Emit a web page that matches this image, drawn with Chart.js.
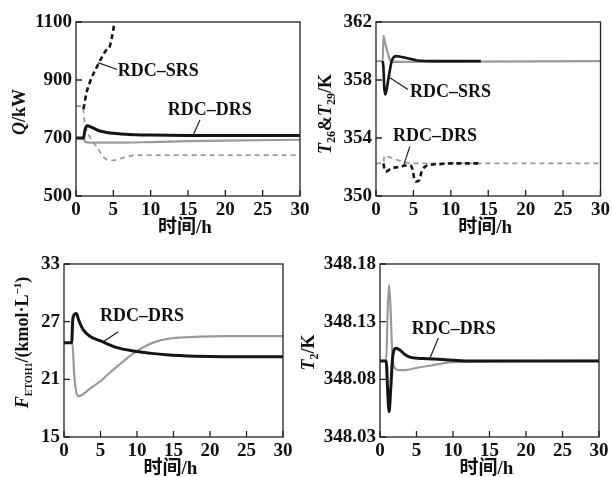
<!DOCTYPE html>
<html>
<head>
<meta charset="utf-8">
<script src="https://cdn.jsdelivr.net/npm/chart.js@4.4.0/dist/chart.umd.min.js"></script>
<style>
  html, body { margin: 0; padding: 0; background: #fff; }
  #wrap { position: relative; width: 613px; height: 477px; }
  #wrap canvas { position: absolute; left: 0; top: 0; }
</style>
</head>
<body>
<div id="wrap">
  <canvas id="chartQ" width="613" height="477"></canvas>
  <canvas id="chartT" width="613" height="477"></canvas>
  <canvas id="chartF" width="613" height="477"></canvas>
  <canvas id="chartT2" width="613" height="477"></canvas>
</div>
<script>
// time axis, shared by all four panels
const timeTicks = [0, 5, 10, 15, 20, 25, 30];

// panel 1 : Q / kW
const qTicks = [500, 700, 900, 1100];
const qBlackX = [0, 1.0, 1.2, 1.5, 2, 3, 4, 5, 6, 8, 10, 15, 20, 30];
const qBlackY = [700, 700, 728, 742, 738, 726, 720, 716, 714, 711, 710, 709, 709, 709];
const qGrayX = [0, 1.0, 1.2, 1.5, 3, 5, 10, 15, 20, 30];
const qGrayY = [699, 699, 688, 685, 684, 684, 686, 689, 691, 694];
const qBlackDashX = [1.0, 1.4, 1.9, 2.4, 3.0, 3.6, 4.1, 4.5, 4.8, 5.0, 5.15];
const qBlackDashY = [800, 855, 895, 925, 955, 985, 1005, 1015, 1046, 1075, 1100];
const qGrayDashX = [0, 0.95, 1.05, 1.65, 2.76, 4.1, 5.0, 6.5, 8, 30];
const qGrayDashY = [810, 810, 775, 716, 670, 626, 623, 633, 641, 641];

// panel 2 : T26 & T29 / K
const tTicks = [350, 354, 358, 362];
const tBlackX = [0.9, 1.0, 1.1, 1.25, 1.4, 1.7, 2.1, 2.7, 3.3, 4.2, 5.5, 8, 14];
const tBlackY = [359.3, 358.8, 357.5, 357.0, 357.3, 358.2, 359.3, 359.65, 359.6, 359.5, 359.35, 359.3, 359.3];
const tGrayX = [0, 0.9, 1.0, 1.2, 1.5, 1.9, 2.3, 30];
const tGrayY = [359.3, 359.3, 361.05, 360.6, 360.0, 359.35, 359.25, 359.3];
const tBlackDashX = [1.0, 1.15, 1.4, 2.0, 3.0, 4.0, 4.6, 4.9, 5.1, 5.4, 5.8, 6.1, 6.5, 7.2, 8.5, 10, 14];
const tBlackDashY = [352.25, 351.8, 351.7, 351.9, 352.0, 352.1, 352.1, 351.8, 351.2, 351.0, 351.1, 351.7, 352.0, 352.15, 352.2, 352.25, 352.25];
const tGrayDashX = [0, 1.0, 1.1, 2.0, 3.0, 4.0, 5.0, 30];
const tGrayDashY = [352.25, 352.25, 352.75, 352.65, 352.45, 352.3, 352.25, 352.25];

// panel 3 : F_ETOH1
const fTicks = [15, 21, 27, 33];
const fBlackX = [0, 1.05, 1.2, 1.5, 1.7, 2.0, 2.6, 3.5, 5, 7, 9.5, 12, 14, 18, 22, 30];
const fBlackY = [24.8, 24.8, 27.2, 27.8, 27.85, 27.2, 26.2, 25.5, 25.0, 24.35, 23.95, 23.7, 23.55, 23.4, 23.35, 23.35];
const fGrayX = [0, 1.15, 1.4, 1.7, 2.0, 2.5, 3.5, 4.9, 6, 7.2, 8.5, 9.5, 11, 12.5, 14.1, 16, 18.6, 22, 30];
const fGrayY = [24.8, 24.8, 21.5, 19.6, 19.25, 19.4, 20.0, 20.75, 21.5, 22.3, 23.1, 23.7, 24.4, 24.9, 25.2, 25.35, 25.45, 25.5, 25.5];

// panel 4 : T2 / K
const t2Ticks = [348.03, 348.08, 348.13, 348.18];
const t2BlackX = [0, 0.85, 1.05, 1.25, 1.45, 1.75, 2.2, 2.8, 3.5, 4.2, 6, 9, 12, 30];
const t2BlackY = [348.096, 348.096, 348.07, 348.052, 348.07, 348.1, 348.107, 348.105, 348.101, 348.099, 348.098, 348.097, 348.096, 348.096];
const t2GrayX = [0, 0.85, 1.05, 1.25, 1.45, 1.7, 2.0, 2.5, 3.5, 5, 7, 10, 30];
const t2GrayY = [348.096, 348.096, 348.14, 348.162, 348.14, 348.1, 348.09, 348.088, 348.088, 348.09, 348.092, 348.095, 348.096];

const BLACK = "#151515";
const GRAY = "#9a9a9a";
const SERIF = "'Liberation Serif', 'Noto Sans CJK SC', serif";

const toPoints = (xs, ys) => xs.map((x, i) => ({ x: x, y: ys[i] }));

const lineSet = (xs, ys, color, width, dash) => ({
  data: toPoints(xs, ys),
  borderColor: color,
  borderWidth: width,
  borderDash: dash || [],
  pointRadius: 0,
  fill: false,
  cubicInterpolationMode: "monotone",
});

// draw a rotated axis title made of styled pieces
const drawTitle = (ctx, pieces, cx, cy) => {
  const fontOf = (p) => {
    const size = p.sub || p.sup ? p.size || 12 : 18;
    return (p.italic ? "italic " : "") + "bold " + size + "px " + SERIF;
  };
  let total = 0;
  pieces.forEach((p) => {
    ctx.font = fontOf(p);
    total += ctx.measureText(p.text).width;
  });
  ctx.save();
  ctx.translate(cx, cy);
  ctx.rotate(-Math.PI / 2);
  ctx.textAlign = "left";
  ctx.textBaseline = "alphabetic";
  let x = -total / 2;
  pieces.forEach((p) => {
    ctx.font = fontOf(p);
    let dy = 6;
    if (p.sub) dy = 10;
    if (p.sup) dy = -1;
    ctx.fillText(p.text, x, dy);
    x += ctx.measureText(p.text).width;
  });
  ctx.restore();
};

const panelDecor = {
  id: "panelDecor",
  afterDraw(chart, args, opts) {
    const ctx = chart.ctx;
    const area = chart.chartArea;
    const xs = chart.scales.x;
    const ys = chart.scales.y;
    ctx.save();
    ctx.strokeStyle = "#222";
    ctx.lineWidth = 1.3;
    ctx.strokeRect(area.left, area.top, area.right - area.left, area.bottom - area.top);
    // inward tick marks
    ctx.beginPath();
    xs.ticks.forEach((t) => {
      const px = xs.getPixelForValue(t.value);
      ctx.moveTo(px, area.bottom);
      ctx.lineTo(px, area.bottom - 6);
    });
    ys.ticks.forEach((t) => {
      const py = ys.getPixelForValue(t.value);
      ctx.moveTo(area.left, py);
      ctx.lineTo(area.left + 6, py);
    });
    ctx.stroke();

    ctx.fillStyle = "#111";
    ctx.font = "bold 19px " + SERIF;
    ctx.textAlign = "center";
    ctx.textBaseline = "middle";
    ctx.fillText("时间/h", (area.left + area.right) / 2 - 3, area.bottom + 32);

    drawTitle(ctx, opts.title, area.left - opts.titleGap, (area.top + area.bottom) / 2 + opts.titleShift);

    // series labels with leader lines
    ctx.lineWidth = 1.2;
    opts.notes.forEach((n) => {
      ctx.beginPath();
      ctx.moveTo(xs.getPixelForValue(n.from[0]), ys.getPixelForValue(n.from[1]));
      ctx.lineTo(xs.getPixelForValue(n.to[0]), ys.getPixelForValue(n.to[1]));
      ctx.stroke();
      ctx.font = "bold 18px " + SERIF;
      ctx.textAlign = "left";
      ctx.textBaseline = "middle";
      ctx.fillText(n.text, xs.getPixelForValue(n.x), ys.getPixelForValue(n.y));
    });
    ctx.restore();
  },
};

const tickFont = { family: SERIF, size: 19, weight: "bold" };

// box = [left, top, right, bottom] of the plot frame in page pixels
const makePanel = (id, box, datasets, yTicks, digits, decor) => {
  return new Chart(document.getElementById(id), {
    type: "line",
    data: { datasets: datasets },
    plugins: [panelDecor],
    options: {
      responsive: false,
      animation: false,
      events: [],
      layout: {
        padding: { left: 0, top: box[1], right: 613 - box[2], bottom: 0 },
      },
      plugins: { legend: { display: false }, tooltip: { enabled: false }, panelDecor: decor },
      scales: {
        x: {
          type: "linear",
          min: 0,
          max: 30,
          grid: { display: false, drawTicks: false },
          border: { display: false },
          afterFit: (s) => { s.height = 477 - box[3]; },
          afterBuildTicks: (s) => { s.ticks = timeTicks.map((v) => ({ value: v })); },
          ticks: { font: tickFont, color: "#111", padding: 3, maxRotation: 0, autoSkip: false },
        },
        y: {
          min: yTicks[0],
          max: yTicks[yTicks.length - 1],
          grid: { display: false, drawTicks: false },
          border: { display: false },
          afterFit: (s) => { s.width = box[0]; },
          afterBuildTicks: (s) => { s.ticks = yTicks.map((v) => ({ value: v })); },
          ticks: {
            font: tickFont,
            color: "#111",
            padding: 4,
            autoSkip: false,
            callback: (v) => Number(v).toFixed(digits),
          },
        },
      },
    },
  });
};

// panel 1
makePanel("chartQ", [76, 22, 300, 196], [
  lineSet(qBlackX, qBlackY, BLACK, 3),
  lineSet(qBlackDashX, qBlackDashY, BLACK, 2.6, [5, 3.5]),
  lineSet(qGrayX, qGrayY, GRAY, 2.2),
  lineSet(qGrayDashX, qGrayDashY, GRAY, 1.8, [5, 4]),
], qTicks, 0, {
  title: [{ text: "Q", italic: true }, { text: "/kW" }],
  titleGap: 57, titleShift: 3,
  notes: [
    { text: "RDC–SRS", x: 5.6, y: 929, from: [2.95, 960], to: [5.5, 936] },
    { text: "RDC–DRS", x: 12.3, y: 797, from: [15.7, 710], to: [16.6, 762] },
  ],
});

// panel 2
makePanel("chartT", [376, 22, 601, 196], [
  lineSet(tBlackX, tBlackY, BLACK, 2.6),
  lineSet(tBlackDashX, tBlackDashY, BLACK, 2.6, [5, 3.5]),
  lineSet(tGrayX, tGrayY, GRAY, 2.2),
  lineSet(tGrayDashX, tGrayDashY, GRAY, 1.8, [5, 4]),
], tTicks, 0, {
  title: [
    { text: "T", italic: true }, { text: "26", sub: true },
    { text: "&" },
    { text: "T", italic: true }, { text: "29", sub: true },
    { text: "/K" },
  ],
  titleGap: 51, titleShift: 5,
  notes: [
    { text: "RDC–SRS", x: 4.53, y: 357.13, from: [1.6, 358.24], to: [4.27, 357.34] },
    { text: "RDC–DRS", x: 2.27, y: 354.08, from: [4.53, 353.41], to: [3.64, 352.03] },
  ],
});

// panel 3
makePanel("chartF", [64, 264, 283, 437], [
  lineSet(fBlackX, fBlackY, BLACK, 3),
  lineSet(fGrayX, fGrayY, GRAY, 2.2),
], fTicks, 0, {
  title: [
    { text: "F", italic: true }, { text: "ETOH1", sub: true, size: 10 },
    { text: "/(kmol·L" }, { text: "−1", sup: true, size: 11 }, { text: ")" },
  ],
  titleGap: 42, titleShift: -8,
  notes: [
    { text: "RDC–DRS", x: 4.93, y: 27.59, from: [7.44, 25.96], to: [5.38, 24.92] },
  ],
});

// panel 4
makePanel("chartT2", [380, 264, 599, 437], [
  lineSet(t2BlackX, t2BlackY, BLACK, 3),
  lineSet(t2GrayX, t2GrayY, GRAY, 2.2),
], t2Ticks, 2, {
  title: [{ text: "T", italic: true }, { text: "2", sub: true }, { text: "/K" }],
  titleGap: 72, titleShift: 2,
  notes: [
    { text: "RDC–DRS", x: 4.34, y: 348.1236, from: [7.99, 348.1159], to: [6.85, 348.0985] },
  ],
});
</script>
</body>
</html>
